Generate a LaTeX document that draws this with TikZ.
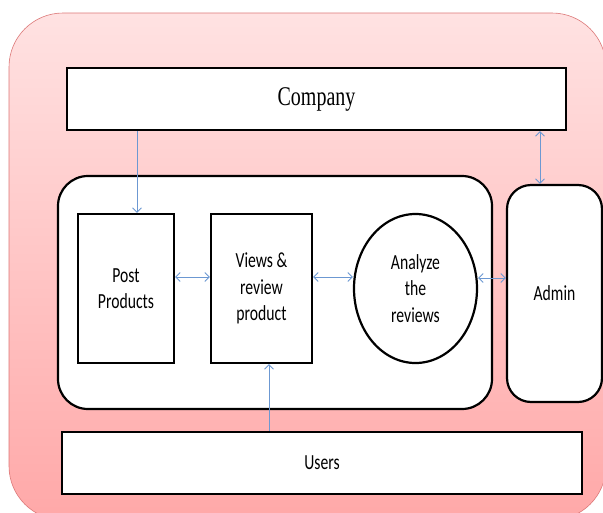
\documentclass[tikz,border=0pt]{standalone}
\usepackage{fontspec}
\usetikzlibrary{shapes.geometric,arrows.meta}
\newfontfamily\calfont[FakeStretch=0.73]{Carlito}
\newfontfamily\tmsfont[FakeStretch=0.74]{Liberation Serif}
\definecolor{bgtop}{RGB}{255,226,226}
\definecolor{bgbot}{RGB}{255,168,168}
\definecolor{bgedge}{RGB}{220,120,120}
\definecolor{arrblue}{RGB}{108,152,210}
\tikzset{
  box/.style={draw=black, line width=2.2pt, fill=white, inner sep=0pt, align=center,
    font=\calfont\fontsize{21.5}{26.5}\selectfont},
  rbox/.style={box, rounded corners=#1},
  arr/.style={draw=arrblue, line width=0.9pt, {Straight Barb[length=4.5pt,width=9pt]}-{Straight Barb[length=4.5pt,width=9pt]}},
  arrone/.style={draw=arrblue, line width=0.9pt, -{Straight Barb[length=4.5pt,width=9pt]}}
}
\begin{document}
\begin{tikzpicture}[x=1pt,y=-1pt]
\useasboundingbox (0,0) rectangle (603,512);
% background
\path[top color=bgtop, bottom color=bgbot, draw=bgedge, line width=0.6pt, rounded corners=54pt]
  (9,13) rectangle (606,520);
% containers
\node[rbox=30pt, minimum width=434pt, minimum height=233pt] (inner) at (275,292.5) {};
\node[box, minimum width=499pt, minimum height=62pt, font=\tmsfont\fontsize{27}{30}\selectfont] (company) at (316.5,99) {Company};
\node[rbox=24pt, minimum width=95pt, minimum height=217pt] (admin) at (554.5,293.5) {Admin};
\node[box, minimum width=520pt, minimum height=62pt] (users) at (322,463) {Users};
% inner elements
\node[box, minimum width=96pt, minimum height=149pt] (post) at (126,288.5) {Post\\Products};
\node[box, minimum width=101pt, minimum height=149pt] (views) at (261.5,288.5) {Views \&\\review\\product};
\node[box, ellipse, minimum width=123pt, minimum height=149pt] (circ) at (415.5,288.5) {Analyze\\the\\reviews};
% helper coordinates
\coordinate (xa) at (137,0);
\coordinate (xb) at (540,0);
\coordinate (xc) at (269,0);
\coordinate (ya) at (0,277);
\coordinate (yb) at (0,278);
% connectors
\draw[arrone] (company.south -| xa) -- (post.north -| xa);
\draw[arr] (company.south -| xb) -- (admin.north -| xb);
\draw[arrone] (users.north -| xc) -- (views.south -| xc);
\draw[arr] (post.east |- ya) -- (views.west |- ya);
\draw[arr] (views.east |- ya) -- (circ.west |- ya);
\draw[arr] (circ.east |- yb) -- (admin.west |- yb);
\end{tikzpicture}
\end{document}
